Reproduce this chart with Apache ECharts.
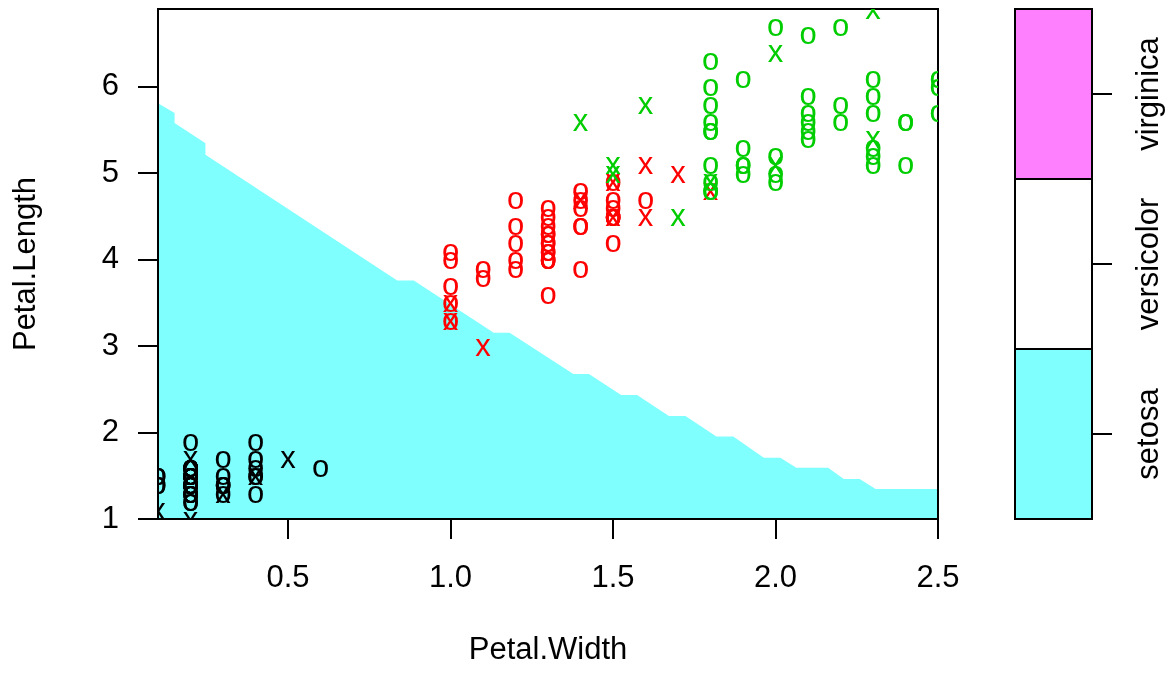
<!DOCTYPE html>
<html><head><meta charset="utf-8">
<script src="https://cdn.jsdelivr.net/npm/echarts@6/dist/echarts.min.js"></script>
<style>html,body{margin:0;padding:0;background:#fff}#c{width:1173px;height:673px}</style>
</head><body><div id="c"></div>
<script>
// ---- data ----
const xTicks = [0.5, 1.0, 1.5, 2.0, 2.5];
const yTicks = [1, 2, 3, 4, 5, 6];
const classes = ['setosa', 'versicolor', 'virginica'];
const regionColors = ['#80FFFF', '#FFFFFF', '#FF80FF'];
const pointColors = ['#000000', '#FF0000', '#00CD00'];

// decision boundary (setosa region lies below it)
const boundaryWidth  = [0.1, 0.151, 0.151, 0.246, 0.246, 0.836, 0.887, 1.133, 1.182, 1.378, 1.426, 1.525, 1.574, 1.672, 1.723, 1.818, 1.870, 1.964, 2.015, 2.064, 2.162, 2.210, 2.259, 2.308, 2.5];
const boundaryLength = [5.811, 5.696, 5.580, 5.348, 5.213, 3.758, 3.758, 3.156, 3.156, 2.678, 2.678, 2.435, 2.435, 2.192, 2.192, 1.953, 1.953, 1.709, 1.709, 1.594, 1.594, 1.463, 1.463, 1.347, 1.347];

// [Petal.Width, Petal.Length]; O = ordinary point, X = support vector
const setosaO = [[0.1,1.5],[0.1,1.4],[0.1,1.5],[0.1,1.4],
  [0.2,1.4],[0.2,1.4],[0.2,1.4],[0.2,1.4],[0.2,1.4],[0.2,1.4],[0.2,1.4],[0.2,1.4],
  [0.2,1.3],[0.2,1.3],[0.2,1.3],[0.2,1.3],
  [0.2,1.5],[0.2,1.5],[0.2,1.5],[0.2,1.5],[0.2,1.5],[0.2,1.5],[0.2,1.5],
  [0.2,1.6],[0.2,1.6],[0.2,1.6],[0.2,1.6],[0.2,1.6],
  [0.2,1.2],[0.2,1.2],[0.2,1.9],
  [0.3,1.4],[0.3,1.4],[0.3,1.7],[0.3,1.5],[0.3,1.3],[0.3,1.4],
  [0.4,1.7],[0.4,1.5],[0.4,1.3],[0.4,1.5],[0.4,1.6],[0.4,1.9],
  [0.6,1.6]];
const setosaX = [[0.1,1.1],[0.2,1.7],[0.2,1.0],[0.3,1.3],[0.4,1.5],[0.5,1.7]];

const versicolorO = [[1.0,3.3],[1.0,3.5],[1.0,4.0],[1.0,4.1],[1.0,3.7],
  [1.1,3.9],[1.1,3.8],
  [1.2,4.7],[1.2,3.9],[1.2,4.4],[1.2,4.0],[1.2,4.2],
  [1.3,4.0],[1.3,4.5],[1.3,4.6],[1.3,3.6],[1.3,4.0],[1.3,4.3],[1.3,4.4],[1.3,4.1],[1.3,4.0],[1.3,4.2],[1.3,4.2],[1.3,4.3],[1.3,4.1],
  [1.4,4.7],[1.4,3.9],[1.4,4.4],[1.4,4.4],[1.4,4.8],[1.4,4.6],
  [1.5,4.5],[1.5,4.6],[1.5,4.2],[1.5,4.5],[1.5,4.5],[1.5,4.9],[1.5,4.5],[1.5,4.7],
  [1.6,4.7]];
const versicolorX = [[1.0,3.5],[1.0,3.3],[1.1,3.0],[1.4,4.7],[1.5,4.9],[1.5,4.5],[1.6,5.1],[1.6,4.5],[1.7,5.0],[1.8,4.8]];

const virginicaO = [[1.8,5.6],[1.8,6.3],[1.8,5.8],[1.8,5.5],[1.8,6.0],[1.8,4.8],[1.8,4.9],[1.8,5.5],[1.8,4.8],[1.8,5.1],
  [1.9,5.1],[1.9,5.3],[1.9,6.1],[1.9,5.1],[1.9,5.0],
  [2.0,5.0],[2.0,4.9],[2.0,6.7],[2.0,5.2],
  [2.1,5.9],[2.1,6.6],[2.1,5.5],[2.1,5.7],[2.1,5.6],[2.1,5.4],
  [2.2,5.8],[2.2,6.7],[2.2,5.6],
  [2.3,5.3],[2.3,5.7],[2.3,6.1],[2.3,5.1],[2.3,5.9],[2.3,5.2],
  [2.4,5.1],[2.4,5.6],[2.4,5.6],
  [2.5,6.0],[2.5,6.1],[2.5,5.7]];
const virginicaX = [[1.4,5.6],[1.5,5.0],[1.5,5.1],[1.6,5.8],[1.7,4.5],[1.8,4.9],[2.0,6.4],[2.0,5.1],[2.3,6.9],[2.3,5.4]];

// ---- chart ----
const FONT = '"Liberation Sans", Arial, Helvetica, sans-serif';
const FS = 31;
const GLYPH_DY = 1;

function glyphSeries(data, glyph, color) {
  return {
    type: 'custom', xAxisIndex: 0, yAxisIndex: 0, clip: true, silent: true,
    data: data, encode: { x: 0, y: 1 }, z: 3,
    renderItem: function (params, api) {
      const p = api.coord([api.value(0), api.value(1)]);
      return {
        type: 'text', x: p[0], y: p[1] + GLYPH_DY,
        style: { text: glyph, fill: color, fontSize: FS, fontFamily: FONT, align: 'center', verticalAlign: 'middle' }
      };
    }
  };
}

const chart = echarts.init(document.getElementById('c'), null, { renderer: 'canvas' });
const axisFont = { color: '#000', fontSize: FS, fontFamily: FONT };

chart.setOption({
  animation: false,
  backgroundColor: '#ffffff',
  grid: [
    { left: 158, top: 9, width: 780, height: 510, show: true, borderColor: '#000', borderWidth: 2, backgroundColor: 'transparent', z: 0 },
    { left: 1015, top: 9, width: 77, height: 510, show: true, borderColor: '#000', borderWidth: 2, backgroundColor: 'transparent', z: 0 }
  ],
  xAxis: [
    {
      type: 'value', gridIndex: 0, min: 0.1, max: 2.5,
      name: 'Petal.Width', nameLocation: 'middle', nameGap: 116,
      nameTextStyle: axisFont,
      axisLine: { show: false },
      axisTick: { show: true, length: 20, inside: false, customValues: xTicks, lineStyle: { color: '#000', width: 2 } },
      axisLabel: { show: true, margin: 44, customValues: xTicks, formatter: function (v) { return (+v).toFixed(1); }, ...axisFont },
      splitLine: { show: false }
    },
    { type: 'value', gridIndex: 1, min: 0, max: 1, show: false }
  ],
  yAxis: [
    {
      type: 'value', gridIndex: 0, min: 1, max: 6.9,
      name: 'Petal.Length', nameLocation: 'middle', nameGap: 116, nameRotate: 90,
      nameTextStyle: axisFont,
      axisLine: { show: false },
      axisTick: { show: true, length: 20, inside: false, customValues: yTicks, lineStyle: { color: '#000', width: 2 } },
      axisLabel: { show: true, margin: 39, customValues: yTicks, formatter: function (v) { return String(Math.round(v)); }, ...axisFont },
      splitLine: { show: false }
    },
    {
      type: 'category', gridIndex: 1, position: 'right', data: classes,
      axisLine: { show: false, onZero: false },
      axisTick: { show: true, length: 20, inside: false, interval: 0, alignWithLabel: true, lineStyle: { color: '#000', width: 2 } },
      axisLabel: { show: true, rotate: 90, interval: 0, margin: 42, lineHeight: 31, hideOverlap: false, ...axisFont },
      splitLine: { show: true, interval: 0, lineStyle: { color: '#000', width: 2 } }
    }
  ],
  series: [
    {
      type: 'line', xAxisIndex: 0, yAxisIndex: 0, z: -1, silent: true,
      data: boundaryWidth.map(function (w, i) { return [w, boundaryLength[i]]; }),
      showSymbol: false, symbol: 'none',
      lineStyle: { width: 0, color: regionColors[0] },
      areaStyle: { color: regionColors[0], opacity: 1, origin: 'start' },
      clip: true
    },
    glyphSeries(setosaO, 'o', pointColors[0]),
    glyphSeries(setosaX, 'x', pointColors[0]),
    glyphSeries(versicolorO, 'o', pointColors[1]),
    glyphSeries(versicolorX, 'x', pointColors[1]),
    glyphSeries(virginicaO, 'o', pointColors[2]),
    glyphSeries(virginicaX, 'x', pointColors[2]),
    {
      type: 'bar', xAxisIndex: 1, yAxisIndex: 1, silent: true, barWidth: '100%', z: -1,
      data: classes.map(function (c, i) { return { value: 1, itemStyle: { color: regionColors[i] } }; })
    }
  ]
});
</script></body></html>
